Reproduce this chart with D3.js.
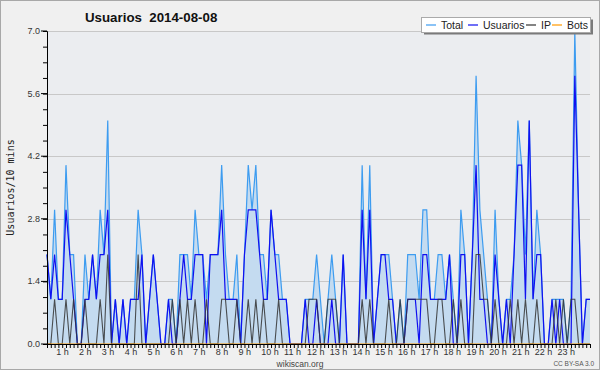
<!DOCTYPE html>
<html><head><meta charset="utf-8">
<script src="https://cdn.jsdelivr.net/npm/d3@7"></script>
<style>html,body{margin:0;padding:0;background:#f0f0f0}svg{display:block}</style>
</head><body><svg id="c" width="600" height="370"></svg>
<script>
const title = "Usuarios  2014-08-08";
const yLabel = "Usuarios/10 mins";
const seriesNames = ["Total", "Usuarios", "IP", "Bots"];
const seriesColors = ["#3d9cf0", "#1010f0", "#333333", "#ff9900"];
const yTicks = [0, 1.4, 2.8, 4.2, 5.6, 7.0];
const hourLabels = ["1 h","2 h","3 h","4 h","5 h","6 h","7 h","8 h","9 h","10 h","11 h","12 h","13 h","14 h","15 h","16 h","17 h","18 h","19 h","20 h","21 h","22 h","23 h"];
// 144 ten-minute slots
const usuarios = [
2,1,2,1,1,3,2,1,0,0,1,1,2,1,2,2,3,0,1,0,1,0,1,1,
1,2,0,1,2,1,0,0,1,0,0,1,2,1,1,2,2,2,0,2,2,2,3,1,
1,1,1,0,2,3,3,3,2,1,1,3,2,1,1,1,0,0,0,0,1,0,0,1,
0,0,0,1,0,0,2,0,0,0,0,3,1,3,0,1,2,2,1,1,0,0,0,1,
1,1,0,2,2,1,1,1,1,1,2,0,0,2,2,0,2,4,1,1,0,0,2,1,
0,1,0,2,4,4,1,5,1,2,2,0,0,1,0,1,0,0,0,6,3,0,1,1];
const ip = [
0,0,1,0,0,1,0,1,0,0,1,0,0,0,1,0,2,0,0,0,0,0,0,0,
2,0,0,0,0,0,0,0,0,1,0,1,0,1,0,1,0,0,1,0,0,0,1,1,
0,0,1,0,0,1,0,1,0,1,0,0,0,1,0,0,0,0,0,0,0,1,1,1,
0,0,1,1,1,0,0,0,0,0,0,1,0,1,0,0,0,0,1,0,0,1,0,1,
1,1,1,1,1,0,0,1,1,0,0,1,0,1,0,0,0,2,2,1,1,0,1,0,
0,0,1,0,1,0,1,0,0,1,0,0,0,0,1,0,1,0,1,1,0,0,0,0];
const total = [
2,1,3,1,1,4,2,2,0,0,2,1,2,1,3,2,5,0,1,0,1,0,1,1,
3,2,0,1,2,1,0,0,1,1,0,2,2,2,1,3,2,2,1,2,2,2,4,2,
1,1,2,0,2,4,3,4,2,2,1,3,2,2,1,1,0,0,0,0,1,1,1,2,
1,0,1,2,1,0,2,0,0,0,0,4,1,4,0,1,2,2,2,1,0,1,0,2,
2,2,1,3,3,1,1,2,2,1,2,1,0,3,2,0,2,6,3,2,1,0,3,1,
0,1,1,2,5,4,2,5,1,3,2,0,0,1,1,1,1,0,1,7,3,0,1,1];
const bots = new Array(144).fill(0);

const svg = d3.select("#c");
const X0 = 47, X1 = 590, Y0 = 344, Y1 = 31;
const x = d3.scaleLinear().domain([0, 143]).range([X0, X1]);
const y = d3.scaleLinear().domain([0, 7]).range([Y0, Y1]);
const font = "'Liberation Sans', Arial, sans-serif";

svg.append("rect").attr("x",0.5).attr("y",0.5).attr("width",599).attr("height",369)
  .attr("fill","#f0f0f0").attr("stroke","#a8a8a8");
svg.append("rect").attr("x",X0).attr("y",Y1).attr("width",X1-X0).attr("height",Y0-Y1).attr("fill","#ebedf0");

// grid
svg.append("g").selectAll("line").data(yTicks.slice(1)).join("line")
  .attr("x1",X0).attr("x2",X1).attr("y1",d=>Math.round(y(d))+0.5).attr("y2",d=>Math.round(y(d))+0.5)
  .attr("stroke","#c8c8c8").attr("stroke-width",1);

const idx = d3.range(144);
svg.append("path").datum(idx)
  .attr("d", d3.area().x(i=>x(i)).y0(y(0)).y1(i=>y(total[i])))
  .attr("fill","#c4dbf0");
const line = arr => d3.line().x(i=>x(i)).y(i=>y(arr[i]));
const data = [total, usuarios, ip, bots];
data.forEach((arr,k)=>{
  svg.append("path").datum(idx).attr("d", line(arr)).attr("fill","none")
    .attr("stroke", seriesColors[k]).attr("stroke-width", k===2?1.1:1.2)
    .attr("stroke-opacity", k===2?0.85:1).attr("stroke-linejoin","miter");
});

// y axis
const ya = d3.axisLeft(y).tickValues(d3.range(0,7.001,0.35)).tickSize(4).tickFormat("");
const gy = svg.append("g").attr("transform",`translate(${X0},0)`).call(ya);
gy.selectAll("path.domain").attr("stroke","#000");
gy.selectAll(".tick line").attr("stroke","#000");
svg.append("g").selectAll("text").data(yTicks).join("text")
  .attr("x",X0-7).attr("y",d=>y(d)+3).attr("text-anchor","end")
  .attr("font-family",font).attr("font-size",9).attr("fill","#333")
  .text(d=>d.toFixed(1));
svg.append("g").selectAll("line").data(yTicks).join("line")
  .attr("x1",X0-6).attr("x2",X0).attr("y1",d=>y(d)).attr("y2",d=>y(d)).attr("stroke","#000");

// x axis
const xa = d3.axisBottom(x).tickValues(idx).tickSize(4).tickFormat("");
const gx = svg.append("g").attr("transform",`translate(0,${Y0})`).call(xa);
gx.selectAll("path.domain").attr("stroke","#000");
gx.selectAll(".tick line").attr("stroke","#000");
svg.append("g").selectAll("text").data(hourLabels).join("text")
  .attr("x",(d,k)=>x((k+1)*6)-13.5).attr("y",Y0+11).attr("text-anchor","start")
  .attr("font-family",font).attr("font-size",9).attr("fill","#333").text(d=>d);

// y label
svg.append("text").attr("transform",`translate(14,${(Y0+Y1)/2}) rotate(-90)`)
  .attr("text-anchor","middle").attr("font-family","'DejaVu Sans Mono', monospace")
  .attr("font-size",10).attr("fill","#222").text(yLabel);

// title
svg.append("text").attr("x",85).attr("y",22).attr("font-family",font).attr("font-weight","bold")
  .attr("font-size",13.3).attr("fill","#111").attr("xml:space","preserve").style("white-space","pre").text(title);

// legend
const lg = svg.append("g");
lg.append("rect").attr("x",424).attr("y",19.5).attr("width",169).attr("height",15).attr("fill","#7a7a7a");
lg.append("rect").attr("x",421.5).attr("y",17.5).attr("width",169).attr("height",15).attr("fill","#fff").attr("stroke","#aaa");
const lx = [426, 468, 526, 552];
seriesNames.forEach((n,k)=>{
  lg.append("line").attr("x1",lx[k]).attr("x2",lx[k]+10).attr("y1",25).attr("y2",25).attr("stroke",seriesColors[k]).attr("stroke-width",1.2);
  lg.append("text").attr("x",lx[k]+15).attr("y",29).attr("font-family",font).attr("font-size",10.5).attr("fill","#222").text(n);
});

svg.append("text").attr("x",300).attr("y",366.5).attr("text-anchor","middle").attr("font-family",font)
  .attr("font-size",8.5).attr("fill","#444").text("wikiscan.org");
svg.append("text").attr("x",594).attr("y",366).attr("text-anchor","end").attr("font-family",font)
  .attr("font-size",6.5).attr("fill","#555").text("CC BY-SA 3.0");
</script></body></html>
